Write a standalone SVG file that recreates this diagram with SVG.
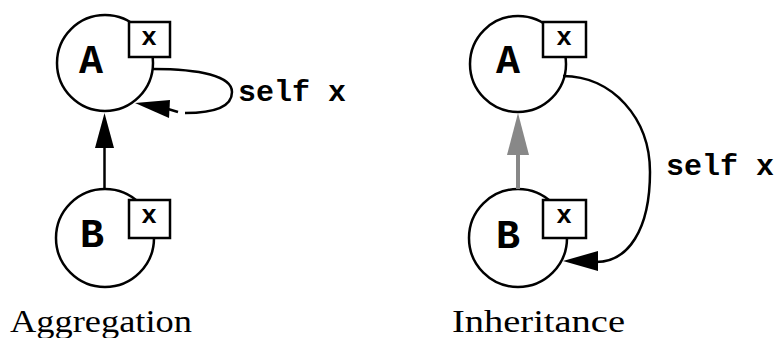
<svg xmlns="http://www.w3.org/2000/svg" width="778" height="338" viewBox="0 0 778 338">
<style>
.node circle{fill:#fff;stroke:#000;stroke-width:2.5}
.node rect{fill:#fff;stroke:#000;stroke-width:2.5}
.big{font-family:"Liberation Mono",monospace;font-weight:bold;font-size:40px;text-anchor:middle}
.small{font-family:"Liberation Mono",monospace;font-weight:bold;font-size:26px;text-anchor:middle}
.lbl{font-family:"Liberation Mono",monospace;font-weight:bold;font-size:30px}
.cap{font-family:"Liberation Serif",serif;font-size:32px}
.edge{fill:none;stroke:#000;stroke-width:2.5}
</style>
<rect width="778" height="338" fill="#fff"/>
<g id="agg-A" class="node">
<circle cx="105" cy="63" r="48"/>
<text class="big" x="91" y="73">A</text>
<rect x="129" y="22" width="41" height="35"/>
<text class="small" x="149" y="45">x</text>
</g>
<g id="agg-B" class="node">
<circle cx="105" cy="238" r="49"/>
<text class="big" x="92" y="247">B</text>
<rect x="129" y="200" width="41" height="38"/>
<text class="small" x="149" y="223">x</text>
</g>
<g id="inh-A" class="node">
<circle cx="518" cy="64" r="48"/>
<text class="big" x="508" y="73">A</text>
<rect x="543" y="22" width="43" height="35"/>
<text class="small" x="564" y="45">x</text>
</g>
<g id="inh-B" class="node">
<circle cx="518" cy="238" r="49"/>
<text class="big" x="508" y="248">B</text>
<rect x="543" y="200" width="43" height="38"/>
<text class="small" x="564" y="223">x</text>
</g>
<g id="connectors">
<line class="edge" x1="104.5" y1="189" x2="104.5" y2="146"/>
<polygon points="104.5,113 95,148 114,148" fill="#000"/>
<path class="edge" d="M153,69 C200,69 232,76 232,92 C232,108 210,113 185,113"/>
<path class="edge" d="M178,112 L168,109"/>
<polygon points="135,103 170,100 169,118" fill="#000"/>
<text class="lbl" x="238" y="101">self x</text>
<line x1="518" y1="189" x2="518" y2="152" stroke="#888" stroke-width="4"/>
<polygon points="518,113 507,155 529,155" fill="#888"/>
<path class="edge" d="M563,76 C612,76 650,118 650,172 C650,230 628,262 596,262"/>
<polygon points="563,261 598,251 598,271" fill="#000"/>
<text class="lbl" x="666" y="175">self x</text>
</g>
<text class="cap" x="10" y="332" textLength="182" lengthAdjust="spacingAndGlyphs">Aggregation</text>
<text class="cap" x="452" y="332" textLength="173" lengthAdjust="spacingAndGlyphs">Inheritance</text>
</svg>
